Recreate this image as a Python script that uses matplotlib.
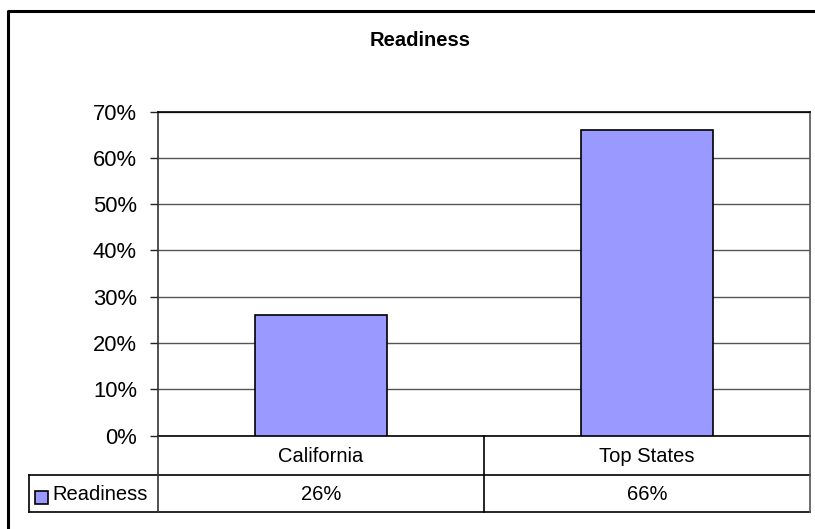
import matplotlib
matplotlib.use("Agg")
import matplotlib.pyplot as plt
from matplotlib.lines import Line2D
from matplotlib.patches import Rectangle
from matplotlib.transforms import blended_transform_factory

# --- data ---
title = "Readiness"
series_name = "Readiness"
categories = ["California", "Top States"]
values = [0.26, 0.66]
y_ticks = [0.0, 0.1, 0.2, 0.3, 0.4, 0.5, 0.6, 0.7]

BAR_COLOR = "#9999FF"
FONT = "Liberation Sans"
FS = 14.5
FS_TICK = 15.8

W, H = 815, 529
DPI = 100
fig = plt.figure(figsize=(W / DPI, H / DPI), dpi=DPI)
plt.rcParams["font.family"] = [FONT, "DejaVu Sans"]


def fx(px):
    return px / W


def fy(py):
    return 1 - py / H


# plot area (pixel box)
L, R, T, B = 158, 810, 111.7, 435.5
ax = fig.add_axes([fx(L), fy(B), fx(R) - fx(L), fy(T) - fy(B)])

x = list(range(len(categories)))
ax.bar(x, values, width=0.404, color=BAR_COLOR, edgecolor="black", linewidth=1.2, zorder=3)
ax.set_xlim(-0.5, len(categories) - 0.5)
ax.set_ylim(y_ticks[0], y_ticks[-1])
ax.set_yticks(y_ticks)
ax.set_yticklabels([f"{int(round(t * 100))}%" for t in y_ticks], fontsize=FS_TICK, fontfamily=FONT)
ax.set_xticks([])
ax.tick_params(axis="y", length=5.8, width=1, pad=9.4, color="#222222")
ax.yaxis.grid(True, color="#555555", linewidth=1, zorder=0)
ax.set_axisbelow(True)
for side, col in (("top", "black"), ("bottom", "black"), ("left", "#333333"), ("right", "#555555")):
    ax.spines[side].set_color(col)
    ax.spines[side].set_linewidth(1.2)

# title
fig.text(fx(420), fy(40), title, ha="center", va="center",
         fontsize=FS, fontweight="bold", fontfamily=FONT)

# data table below the axis
row1_bot, row2_bot = 475, 512
leg_left = 29


def hline(x0, x1, y, color="black", lw=1.2):
    fig.add_artist(Line2D([fx(x0), fx(x1)], [fy(y), fy(y)], color=color, lw=lw, transform=fig.transFigure))


def vline(xp, y0, y1, color="black", lw=1.2):
    fig.add_artist(Line2D([fx(xp), fx(xp)], [fy(y0), fy(y1)], color=color, lw=lw, transform=fig.transFigure))


hline(leg_left, R, row1_bot)
hline(leg_left, R, row2_bot)
vline(leg_left, row1_bot, row2_bot)
vline(L, B, row2_bot, color="#333333")
vline(R, B, row2_bot, color="#555555")
# category dividers
for i in range(1, len(categories)):
    xd = ax.transData.transform((i - 0.5, 0))[0]
    vline(xd, B, row2_bot)

bt = blended_transform_factory(ax.transData, fig.transFigure)
for i, (cat, v) in enumerate(zip(categories, values)):
    fig.text(i, fy((B + row1_bot) / 2 + 1), cat, transform=bt, ha="center", va="center",
             fontsize=FS, fontfamily=FONT)
    fig.text(i, fy((row1_bot + row2_bot) / 2 + 0.5), f"{int(round(v * 100))}%", transform=bt,
             ha="center", va="center", fontsize=FS, fontfamily=FONT)

# legend key in the table
fig.add_artist(Rectangle((fx(35), fy(503.5)), fx(13), fy(491) - fy(503.5), facecolor=BAR_COLOR,
                         edgecolor="black", lw=1.2, transform=fig.transFigure))
fig.text(fx(52), fy(494), series_name, ha="left", va="center", fontsize=FS, fontfamily=FONT)

# chart-area border (left and top edges)
fig.add_artist(Line2D([fx(8), fx(8), fx(W + 5)], [fy(H + 5), fy(11), fy(11)], color="black",
                      lw=2.2, transform=fig.transFigure))

fig.savefig("out.png", dpi=DPI)
